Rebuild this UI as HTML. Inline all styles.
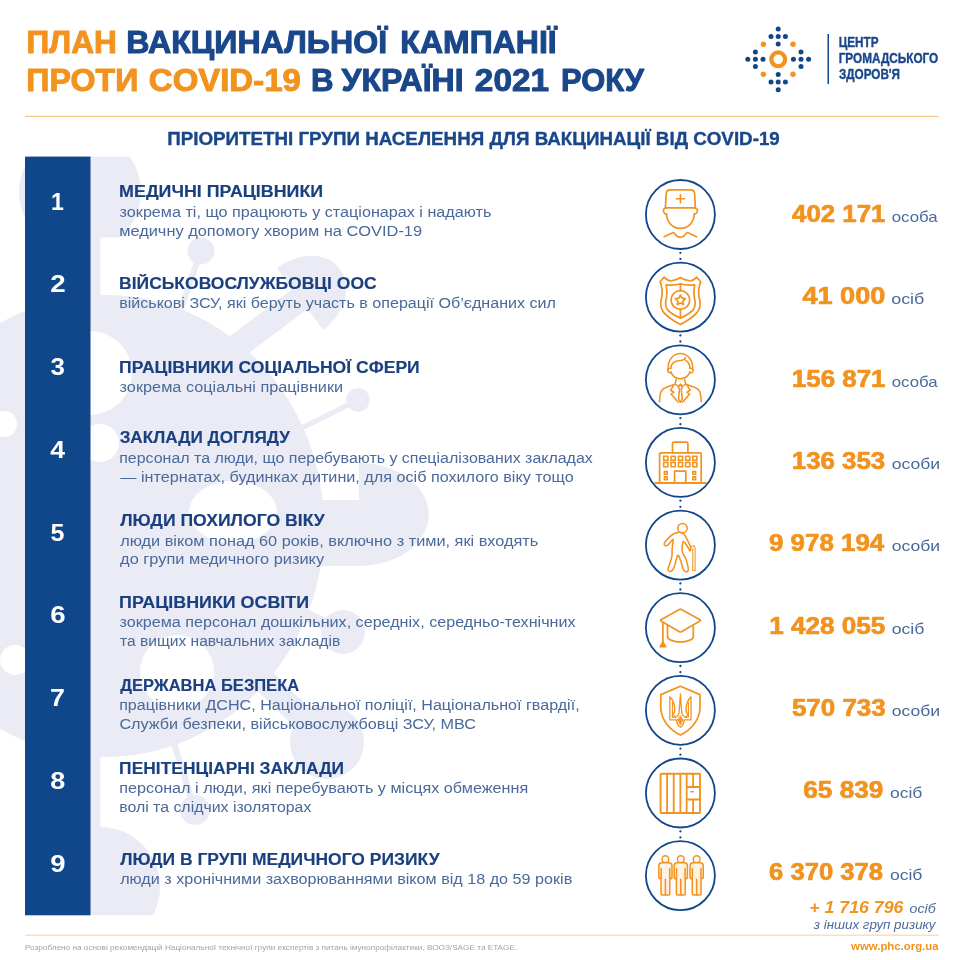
<!DOCTYPE html>
<html lang="uk"><head><meta charset="utf-8"><title>План вакцинальної кампанії проти COVID-19</title>
<style>
html,body{margin:0;padding:0;background:#fff;}
body{width:959px;height:960px;overflow:hidden;font-family:'Liberation Sans', sans-serif;}
svg{display:block;font-family:'Liberation Sans', sans-serif;}
</style></head><body>
<svg width="959" height="960" viewBox="0 0 959 960">
<defs><clipPath id="wmclip"><rect x="0" y="156.5" width="640" height="758.8"/></clipPath><clipPath id="domeA"><rect x="0" y="100" width="300" height="137.5"/></clipPath></defs>
<g clip-path="url(#wmclip)" fill="#eaebf5" stroke="#eaebf5" stroke-linecap="butt">
<ellipse cx="105" cy="526" rx="219" ry="231" stroke="none"/>
<circle cx="80" cy="192" r="61" stroke="none" clip-path="url(#domeA)"/>
<rect x="62" y="230" width="38.5" height="90" stroke="none"/>
<circle cx="100" cy="887" r="60" stroke="none"/>
<rect x="64" y="700" width="36.5" height="150" stroke="none"/>
<line x1="201" y1="251" x2="177.5" y2="318.4" stroke-width="6"/>
<circle cx="201" cy="251" r="13.5" stroke="none"/>
<line x1="358" y1="400" x2="294.8" y2="431.5" stroke-width="5"/>
<circle cx="358" cy="400" r="11.7" stroke="none"/>
<line x1="343" y1="632" x2="297.8" y2="611.9" stroke-width="12"/>
<circle cx="343" cy="632" r="22" stroke="none"/>
<line x1="327" y1="742" x2="259.3" y2="676.1" stroke-width="24"/>
<circle cx="327" cy="742" r="37" stroke="none"/>
<line x1="195" y1="810" x2="171.2" y2="734.7" stroke-width="6"/>
<circle cx="195" cy="810" r="15" stroke="none"/>
<path d="M359,463 A69,51 0 0 1 359,566 Z" stroke="none"/>
<rect x="300" y="500" width="60" height="66" stroke="none"/>
<g transform="translate(300,299) rotate(-37)"><path d="M0,-38.7 A50,38.7 0 0 1 0,38.7 Z" stroke="none"/><rect x="-110" y="-12.5" width="111" height="25" stroke="none"/></g>
<ellipse cx="233" cy="512" rx="44" ry="31" fill="#ffffff" stroke="none"/>
<circle cx="90" cy="373" r="42" fill="#ffffff" stroke="none"/>
<circle cx="100" cy="443" r="19" fill="#ffffff" stroke="none"/>
<circle cx="177" cy="672" r="37" fill="#ffffff" stroke="none"/>
<circle cx="4" cy="424" r="13" fill="#ffffff" stroke="none"/>
<circle cx="15" cy="660" r="15" fill="#ffffff" stroke="none"/>
</g>
<text x="26.40" y="52.80" font-size="30.8" font-weight="bold" font-style="normal" fill="#f2931f" textLength="90.43" lengthAdjust="spacingAndGlyphs" stroke="#f2931f" stroke-width="1.0" stroke-linejoin="round">ПЛАН</text>
<text x="126.37" y="52.80" font-size="30.8" font-weight="bold" font-style="normal" fill="#1a478a" textLength="260.70" lengthAdjust="spacingAndGlyphs" stroke="#1a478a" stroke-width="1.0" stroke-linejoin="round">ВАКЦИНАЛЬНОЇ</text>
<text x="400.38" y="52.80" font-size="30.8" font-weight="bold" font-style="normal" fill="#1a478a" textLength="156.29" lengthAdjust="spacingAndGlyphs" stroke="#1a478a" stroke-width="1.0" stroke-linejoin="round">КАМПАНІЇ</text>
<text x="26.37" y="90.70" font-size="30.8" font-weight="bold" font-style="normal" fill="#f2931f" textLength="111.91" lengthAdjust="spacingAndGlyphs" stroke="#f2931f" stroke-width="1.0" stroke-linejoin="round">ПРОТИ</text>
<text x="148.85" y="90.70" font-size="30.8" font-weight="bold" font-style="normal" fill="#f2931f" textLength="151.93" lengthAdjust="spacingAndGlyphs" stroke="#f2931f" stroke-width="1.0" stroke-linejoin="round">COVID-19</text>
<text x="310.91" y="90.70" font-size="30.8" font-weight="bold" font-style="normal" fill="#1a478a" textLength="22.57" lengthAdjust="spacingAndGlyphs" stroke="#1a478a" stroke-width="1.0" stroke-linejoin="round">В</text>
<text x="341.55" y="90.70" font-size="30.8" font-weight="bold" font-style="normal" fill="#1a478a" textLength="122.08" lengthAdjust="spacingAndGlyphs" stroke="#1a478a" stroke-width="1.0" stroke-linejoin="round">УКРАЇНІ</text>
<text x="474.89" y="90.70" font-size="30.8" font-weight="bold" font-style="normal" fill="#1a478a" textLength="74.22" lengthAdjust="spacingAndGlyphs" stroke="#1a478a" stroke-width="1.0" stroke-linejoin="round">2021</text>
<text x="561.03" y="90.70" font-size="30.8" font-weight="bold" font-style="normal" fill="#1a478a" textLength="83.02" lengthAdjust="spacingAndGlyphs" stroke="#1a478a" stroke-width="1.0" stroke-linejoin="round">РОКУ</text>
<g>
<circle cx="778.2" cy="59.3" r="6.9" fill="none" stroke="#f2931f" stroke-width="4.2"/>
<circle cx="778.2" cy="44.1" r="2.5" fill="#10478b"/>
<circle cx="778.2" cy="36.5" r="2.5" fill="#10478b"/>
<circle cx="778.2" cy="28.9" r="2.5" fill="#10478b"/>
<circle cx="771.0" cy="36.5" r="2.5" fill="#10478b"/>
<circle cx="785.4" cy="36.5" r="2.5" fill="#10478b"/>
<circle cx="778.2" cy="74.5" r="2.5" fill="#10478b"/>
<circle cx="778.2" cy="82.1" r="2.5" fill="#10478b"/>
<circle cx="778.2" cy="89.7" r="2.5" fill="#10478b"/>
<circle cx="785.4" cy="82.1" r="2.5" fill="#10478b"/>
<circle cx="771.0" cy="82.1" r="2.5" fill="#10478b"/>
<circle cx="763.0" cy="59.3" r="2.5" fill="#10478b"/>
<circle cx="755.4" cy="59.3" r="2.5" fill="#10478b"/>
<circle cx="747.8" cy="59.3" r="2.5" fill="#10478b"/>
<circle cx="755.4" cy="66.5" r="2.5" fill="#10478b"/>
<circle cx="755.4" cy="52.1" r="2.5" fill="#10478b"/>
<circle cx="793.4" cy="59.3" r="2.5" fill="#10478b"/>
<circle cx="801.0" cy="59.3" r="2.5" fill="#10478b"/>
<circle cx="808.6" cy="59.3" r="2.5" fill="#10478b"/>
<circle cx="801.0" cy="52.1" r="2.5" fill="#10478b"/>
<circle cx="801.0" cy="66.5" r="2.5" fill="#10478b"/>
<circle cx="763.4" cy="44.3" r="2.7" fill="#f2931f"/>
<circle cx="763.4" cy="74.3" r="2.7" fill="#f2931f"/>
<circle cx="793.0" cy="44.3" r="2.7" fill="#f2931f"/>
<circle cx="793.0" cy="74.3" r="2.7" fill="#f2931f"/>
</g>
<rect x="827.5" y="34" width="1.5" height="50" fill="#10478b"/>
<text x="838.68" y="47.30" font-size="14.6" font-weight="bold" font-style="normal" fill="#1a478a" textLength="39.79" lengthAdjust="spacingAndGlyphs" stroke="#1a478a" stroke-width="0.4" stroke-linejoin="round">ЦЕНТР</text>
<text x="838.68" y="63.00" font-size="14.6" font-weight="bold" font-style="normal" fill="#1a478a" textLength="99.57" lengthAdjust="spacingAndGlyphs" stroke="#1a478a" stroke-width="0.4" stroke-linejoin="round">ГРОМАДСЬКОГО</text>
<text x="838.92" y="78.90" font-size="14.6" font-weight="bold" font-style="normal" fill="#1a478a" textLength="61.11" lengthAdjust="spacingAndGlyphs" stroke="#1a478a" stroke-width="0.4" stroke-linejoin="round">ЗДОРОВ'Я</text>
<rect x="25" y="115.8" width="914" height="1.1" fill="#f3c47d"/>
<rect x="25" y="934.6" width="913.8" height="1.1" fill="#f7d5a3"/>
<text x="167.17" y="145.00" font-size="17.6" font-weight="bold" font-style="normal" fill="#1a478a" textLength="612.63" lengthAdjust="spacingAndGlyphs" stroke="#1a478a" stroke-width="0.35" stroke-linejoin="round">ПРІОРИТЕТНІ ГРУПИ НАСЕЛЕННЯ ДЛЯ ВАКЦИНАЦІЇ ВІД COVID-19</text>
<rect x="25" y="156.6" width="65.5" height="758.7" fill="#10478b"/>
<text x="51.04" y="209.50" font-size="23" font-weight="bold" font-style="normal" fill="#ffffff" textLength="12.81" lengthAdjust="spacingAndGlyphs">1</text>
<text x="119.12" y="196.75" font-size="17.2" font-weight="bold" font-style="normal" fill="#1b4080" textLength="204.04" lengthAdjust="spacingAndGlyphs" stroke="#1b4080" stroke-width="0.15" stroke-linejoin="round">МЕДИЧНІ ПРАЦІВНИКИ</text>
<text x="119.60" y="216.50" font-size="15.2" font-weight="normal" font-style="normal" fill="#4a6a9b" textLength="371.75" lengthAdjust="spacingAndGlyphs">зокрема ті, що працюють у стаціонарах і надають</text>
<text x="119.15" y="235.50" font-size="15.2" font-weight="normal" font-style="normal" fill="#4a6a9b" textLength="302.93" lengthAdjust="spacingAndGlyphs">медичну допомогу хворим на COVID-19</text>
<text x="792.10" y="222.00" font-size="23.6" font-weight="bold" font-style="normal" fill="#f2931f" textLength="93.28" lengthAdjust="spacingAndGlyphs" stroke="#f2931f" stroke-width="0.7" stroke-linejoin="round">402 171</text>
<text x="891.73" y="222.00" font-size="14.6" font-weight="normal" font-style="normal" fill="#4a6a9b" textLength="45.99" lengthAdjust="spacingAndGlyphs">особа</text>
<text x="50.30" y="292.28" font-size="23" font-weight="bold" font-style="normal" fill="#ffffff" textLength="15.41" lengthAdjust="spacingAndGlyphs">2</text>
<text x="119.13" y="289.25" font-size="17.2" font-weight="bold" font-style="normal" fill="#1b4080" textLength="257.52" lengthAdjust="spacingAndGlyphs" stroke="#1b4080" stroke-width="0.15" stroke-linejoin="round">ВІЙСЬКОВОСЛУЖБОВЦІ ООС</text>
<text x="119.17" y="308.25" font-size="15.2" font-weight="normal" font-style="normal" fill="#4a6a9b" textLength="436.75" lengthAdjust="spacingAndGlyphs">військові ЗСУ, які беруть участь в операції Об’єднаних сил</text>
<text x="802.41" y="304.30" font-size="23.6" font-weight="bold" font-style="normal" fill="#f2931f" textLength="82.93" lengthAdjust="spacingAndGlyphs" stroke="#f2931f" stroke-width="0.7" stroke-linejoin="round">41 000</text>
<text x="891.18" y="304.30" font-size="14.6" font-weight="normal" font-style="normal" fill="#4a6a9b" textLength="33.20" lengthAdjust="spacingAndGlyphs">осіб</text>
<text x="50.52" y="375.06" font-size="23" font-weight="bold" font-style="normal" fill="#ffffff" textLength="14.41" lengthAdjust="spacingAndGlyphs">3</text>
<text x="119.13" y="372.50" font-size="17.2" font-weight="bold" font-style="normal" fill="#1b4080" textLength="300.60" lengthAdjust="spacingAndGlyphs" stroke="#1b4080" stroke-width="0.15" stroke-linejoin="round">ПРАЦІВНИКИ СОЦІАЛЬНОЇ СФЕРИ</text>
<text x="119.60" y="391.75" font-size="15.2" font-weight="normal" font-style="normal" fill="#4a6a9b" textLength="223.60" lengthAdjust="spacingAndGlyphs">зокрема соціальні працівники</text>
<text x="791.84" y="386.60" font-size="23.6" font-weight="bold" font-style="normal" fill="#f2931f" textLength="93.66" lengthAdjust="spacingAndGlyphs" stroke="#f2931f" stroke-width="0.7" stroke-linejoin="round">156 871</text>
<text x="891.73" y="386.60" font-size="14.6" font-weight="normal" font-style="normal" fill="#4a6a9b" textLength="45.99" lengthAdjust="spacingAndGlyphs">особа</text>
<text x="50.39" y="457.84" font-size="23" font-weight="bold" font-style="normal" fill="#ffffff" textLength="14.76" lengthAdjust="spacingAndGlyphs">4</text>
<text x="119.64" y="443.25" font-size="17.2" font-weight="bold" font-style="normal" fill="#1b4080" textLength="170.19" lengthAdjust="spacingAndGlyphs" stroke="#1b4080" stroke-width="0.15" stroke-linejoin="round">ЗАКЛАДИ ДОГЛЯДУ</text>
<text x="119.19" y="462.50" font-size="15.2" font-weight="normal" font-style="normal" fill="#4a6a9b" textLength="473.59" lengthAdjust="spacingAndGlyphs">персонал та люди, що перебувають у спеціалізованих закладах</text>
<text x="120.30" y="481.50" font-size="15.2" font-weight="normal" font-style="normal" fill="#4a6a9b" textLength="453.36" lengthAdjust="spacingAndGlyphs">— інтернатах, будинках дитини, для осіб похилого віку тощо</text>
<text x="791.84" y="468.90" font-size="23.6" font-weight="bold" font-style="normal" fill="#f2931f" textLength="93.35" lengthAdjust="spacingAndGlyphs" stroke="#f2931f" stroke-width="0.7" stroke-linejoin="round">136 353</text>
<text x="891.70" y="468.90" font-size="14.6" font-weight="normal" font-style="normal" fill="#4a6a9b" textLength="48.47" lengthAdjust="spacingAndGlyphs">особи</text>
<text x="50.61" y="540.62" font-size="23" font-weight="bold" font-style="normal" fill="#ffffff" textLength="13.96" lengthAdjust="spacingAndGlyphs">5</text>
<text x="120.23" y="526.25" font-size="17.2" font-weight="bold" font-style="normal" fill="#1b4080" textLength="204.62" lengthAdjust="spacingAndGlyphs" stroke="#1b4080" stroke-width="0.15" stroke-linejoin="round">ЛЮДИ ПОХИЛОГО ВІКУ</text>
<text x="120.19" y="545.50" font-size="15.2" font-weight="normal" font-style="normal" fill="#4a6a9b" textLength="418.12" lengthAdjust="spacingAndGlyphs">люди віком понад 60 років, включно з тими, які входять</text>
<text x="120.13" y="564.30" font-size="15.2" font-weight="normal" font-style="normal" fill="#4a6a9b" textLength="203.99" lengthAdjust="spacingAndGlyphs">до групи медичного ризику</text>
<text x="768.99" y="551.20" font-size="23.6" font-weight="bold" font-style="normal" fill="#f2931f" textLength="115.27" lengthAdjust="spacingAndGlyphs" stroke="#f2931f" stroke-width="0.7" stroke-linejoin="round">9 978 194</text>
<text x="891.70" y="551.20" font-size="14.6" font-weight="normal" font-style="normal" fill="#4a6a9b" textLength="48.47" lengthAdjust="spacingAndGlyphs">особи</text>
<text x="50.21" y="623.40" font-size="23" font-weight="bold" font-style="normal" fill="#ffffff" textLength="15.37" lengthAdjust="spacingAndGlyphs">6</text>
<text x="119.12" y="608.00" font-size="17.2" font-weight="bold" font-style="normal" fill="#1b4080" textLength="189.97" lengthAdjust="spacingAndGlyphs" stroke="#1b4080" stroke-width="0.15" stroke-linejoin="round">ПРАЦІВНИКИ ОСВІТИ</text>
<text x="119.60" y="627.00" font-size="15.2" font-weight="normal" font-style="normal" fill="#4a6a9b" textLength="455.93" lengthAdjust="spacingAndGlyphs">зокрема персонал дошкільних, середніх, середньо-технічних</text>
<text x="120.01" y="646.25" font-size="15.2" font-weight="normal" font-style="normal" fill="#4a6a9b" textLength="220.17" lengthAdjust="spacingAndGlyphs">та вищих навчальних закладів</text>
<text x="769.33" y="633.50" font-size="23.6" font-weight="bold" font-style="normal" fill="#f2931f" textLength="116.02" lengthAdjust="spacingAndGlyphs" stroke="#f2931f" stroke-width="0.7" stroke-linejoin="round">1 428 055</text>
<text x="891.70" y="633.50" font-size="14.6" font-weight="normal" font-style="normal" fill="#4a6a9b" textLength="32.71" lengthAdjust="spacingAndGlyphs">осіб</text>
<text x="50.14" y="706.18" font-size="23" font-weight="bold" font-style="normal" fill="#ffffff" textLength="14.86" lengthAdjust="spacingAndGlyphs">7</text>
<text x="120.16" y="691.25" font-size="17.2" font-weight="bold" font-style="normal" fill="#1b4080" textLength="179.01" lengthAdjust="spacingAndGlyphs" stroke="#1b4080" stroke-width="0.15" stroke-linejoin="round">ДЕРЖАВНА БЕЗПЕКА</text>
<text x="119.17" y="710.00" font-size="15.2" font-weight="normal" font-style="normal" fill="#4a6a9b" textLength="460.49" lengthAdjust="spacingAndGlyphs">працівники ДСНС, Національної поліції, Національної гвардії,</text>
<text x="119.43" y="729.25" font-size="15.2" font-weight="normal" font-style="normal" fill="#4a6a9b" textLength="356.48" lengthAdjust="spacingAndGlyphs">Служби безпеки, військовослужбовці ЗСУ, МВС</text>
<text x="791.90" y="715.80" font-size="23.6" font-weight="bold" font-style="normal" fill="#f2931f" textLength="93.88" lengthAdjust="spacingAndGlyphs" stroke="#f2931f" stroke-width="0.7" stroke-linejoin="round">570 733</text>
<text x="891.70" y="715.80" font-size="14.6" font-weight="normal" font-style="normal" fill="#4a6a9b" textLength="48.47" lengthAdjust="spacingAndGlyphs">особи</text>
<text x="50.36" y="788.96" font-size="23" font-weight="bold" font-style="normal" fill="#ffffff" textLength="15.05" lengthAdjust="spacingAndGlyphs">8</text>
<text x="119.14" y="773.75" font-size="17.2" font-weight="bold" font-style="normal" fill="#1b4080" textLength="225.01" lengthAdjust="spacingAndGlyphs" stroke="#1b4080" stroke-width="0.15" stroke-linejoin="round">ПЕНІТЕНЦІАРНІ ЗАКЛАДИ</text>
<text x="119.17" y="793.00" font-size="15.2" font-weight="normal" font-style="normal" fill="#4a6a9b" textLength="409.01" lengthAdjust="spacingAndGlyphs">персонал і люди, які перебувають у місцях обмеження</text>
<text x="119.19" y="812.00" font-size="15.2" font-weight="normal" font-style="normal" fill="#4a6a9b" textLength="192.15" lengthAdjust="spacingAndGlyphs">волі та слідчих ізоляторах</text>
<text x="803.30" y="798.10" font-size="23.6" font-weight="bold" font-style="normal" fill="#f2931f" textLength="79.97" lengthAdjust="spacingAndGlyphs" stroke="#f2931f" stroke-width="0.7" stroke-linejoin="round">65 839</text>
<text x="889.90" y="798.10" font-size="14.6" font-weight="normal" font-style="normal" fill="#4a6a9b" textLength="32.50" lengthAdjust="spacingAndGlyphs">осіб</text>
<text x="50.30" y="871.74" font-size="23" font-weight="bold" font-style="normal" fill="#ffffff" textLength="15.27" lengthAdjust="spacingAndGlyphs">9</text>
<text x="120.23" y="864.50" font-size="17.2" font-weight="bold" font-style="normal" fill="#1b4080" textLength="319.35" lengthAdjust="spacingAndGlyphs" stroke="#1b4080" stroke-width="0.15" stroke-linejoin="round">ЛЮДИ В ГРУПІ МЕДИЧНОГО РИЗИКУ</text>
<text x="120.19" y="883.75" font-size="15.2" font-weight="normal" font-style="normal" fill="#4a6a9b" textLength="452.02" lengthAdjust="spacingAndGlyphs">люди з хронічними захворюваннями віком від 18 до 59 років</text>
<text x="769.11" y="880.40" font-size="23.6" font-weight="bold" font-style="normal" fill="#f2931f" textLength="113.97" lengthAdjust="spacingAndGlyphs" stroke="#f2931f" stroke-width="0.7" stroke-linejoin="round">6 370 378</text>
<text x="889.90" y="880.40" font-size="14.6" font-weight="normal" font-style="normal" fill="#4a6a9b" textLength="32.50" lengthAdjust="spacingAndGlyphs">осіб</text>
<text x="809.21" y="912.50" font-size="16.5" font-weight="bold" font-style="italic" fill="#f2931f" textLength="94.18" lengthAdjust="spacingAndGlyphs">+ 1 716 796</text>
<text x="909.58" y="912.50" font-size="13.5" font-weight="normal" font-style="italic" fill="#4a6a9b" textLength="26.10" lengthAdjust="spacingAndGlyphs">осіб</text>
<text x="813.81" y="929.00" font-size="13.5" font-weight="normal" font-style="italic" fill="#4a6a9b" textLength="121.72" lengthAdjust="spacingAndGlyphs">з інших груп ризику</text>
<text x="24.93" y="950.00" font-size="7.6" font-weight="normal" font-style="normal" fill="#a3a3a3" textLength="492.29" lengthAdjust="spacingAndGlyphs">Розроблено на основі рекомендацій Національної технічної групи експертів з питань імунопрофілактики, ВООЗ/SAGE та ETAGE.</text>
<text x="851.09" y="950.00" font-size="11.3" font-weight="bold" font-style="normal" fill="#f2931f" textLength="87.49" lengthAdjust="spacingAndGlyphs">www.phc.org.ua</text>
<circle cx="680.4" cy="214.5" r="34.5" fill="#ffffff" stroke="#10478b" stroke-width="1.8"/>
<circle cx="680.4" cy="252.8" r="1.15" fill="#10478b"/>
<circle cx="680.4" cy="258.9" r="1.15" fill="#10478b"/>
<circle cx="680.4" cy="297.1" r="34.5" fill="#ffffff" stroke="#10478b" stroke-width="1.8"/>
<circle cx="680.4" cy="335.4" r="1.15" fill="#10478b"/>
<circle cx="680.4" cy="341.5" r="1.15" fill="#10478b"/>
<circle cx="680.4" cy="379.8" r="34.5" fill="#ffffff" stroke="#10478b" stroke-width="1.8"/>
<circle cx="680.4" cy="418.1" r="1.15" fill="#10478b"/>
<circle cx="680.4" cy="424.2" r="1.15" fill="#10478b"/>
<circle cx="680.4" cy="462.4" r="34.5" fill="#ffffff" stroke="#10478b" stroke-width="1.8"/>
<circle cx="680.4" cy="500.7" r="1.15" fill="#10478b"/>
<circle cx="680.4" cy="506.8" r="1.15" fill="#10478b"/>
<circle cx="680.4" cy="545.1" r="34.5" fill="#ffffff" stroke="#10478b" stroke-width="1.8"/>
<circle cx="680.4" cy="583.4" r="1.15" fill="#10478b"/>
<circle cx="680.4" cy="589.5" r="1.15" fill="#10478b"/>
<circle cx="680.4" cy="627.7" r="34.5" fill="#ffffff" stroke="#10478b" stroke-width="1.8"/>
<circle cx="680.4" cy="666.0" r="1.15" fill="#10478b"/>
<circle cx="680.4" cy="672.1" r="1.15" fill="#10478b"/>
<circle cx="680.4" cy="710.3" r="34.5" fill="#ffffff" stroke="#10478b" stroke-width="1.8"/>
<circle cx="680.4" cy="748.6" r="1.15" fill="#10478b"/>
<circle cx="680.4" cy="754.7" r="1.15" fill="#10478b"/>
<circle cx="680.4" cy="793.0" r="34.5" fill="#ffffff" stroke="#10478b" stroke-width="1.8"/>
<circle cx="680.4" cy="831.3" r="1.15" fill="#10478b"/>
<circle cx="680.4" cy="837.4" r="1.15" fill="#10478b"/>
<circle cx="680.4" cy="875.6" r="34.5" fill="#ffffff" stroke="#10478b" stroke-width="1.8"/>
<g transform="translate(680.4,214.5)" fill="none" stroke="#f2931f" stroke-width="1.7" stroke-linecap="round" stroke-linejoin="round">
<path d="M-15,-6.6 L-14.2,-21 Q-13.9,-24.7 -10,-24.7 L10,-24.7 Q13.9,-24.7 14.2,-21 L15,-6.6 Z"/>
<path d="M-4,-15.75 h8 M0,-19.75 v8"/>
<path d="M-14.6,-6.4 Q-17.6,-6 -16.9,-3 Q-16.2,-0.6 -13.9,-0.2 M14.6,-6.4 Q17.6,-6 16.9,-3 Q16.2,-0.6 13.9,-0.2"/>
<path d="M-13.9,-0.5 C-13.3,8 -8,13.9 0,13.9 C8,13.9 13.3,8 13.9,-0.5"/>
<path d="M-16.25,22.2 L-7.1,18 Q-6,18.2 -5,20 Q-3,22.8 0,22.8 Q3,22.8 5,20 Q6,18.2 7.1,18 L16.25,22.2"/>
</g>
<g transform="translate(680.4,297.1)" fill="none" stroke="#f2931f" stroke-width="1.7" stroke-linecap="round" stroke-linejoin="round">
<path d="M-16.25,-20 Q-12,-15.3 -8,-16.6 Q-3,-17.5 0,-19.6 Q3,-17.5 8,-16.6 Q12,-15.3 16.25,-20 L20.4,-15.4 Q17.3,-8 18.6,0 Q21.6,9 17,15 Q12,21 0,27.5 Q-12,21 -17,15 Q-21.6,9 -18.6,0 Q-17.3,-8 -20.4,-15.4 Z"/>
<path d="M-14.3,-12.3 Q-6,-11.3 0,-13.3 Q6,-11.3 14.3,-12.3 Q12.8,-5 14,1 Q16,8 13,12.5 Q9,17 0,21 Q-9,17 -13,12.5 Q-16,8 -14,1 Q-12.8,-5 -14.3,-12.3 Z"/>
<circle cx="0" cy="2.9" r="9.3"/>
<path d="M0.00,-2.00 L1.53,1.10 L4.95,1.59 L2.47,4.00 L3.06,7.41 L0.00,5.80 L-3.06,7.41 L-2.47,4.00 L-4.95,1.59 L-1.53,1.10Z"/>
<path d="M0,-13.3 V-6.4 M0,12.2 V21"/>
</g>
<g transform="translate(680.4,379.8)" fill="none" stroke="#f2931f" stroke-width="1.55" stroke-linecap="round" stroke-linejoin="round">
<path d="M-12.3,-10 C-13,-20 -7,-26.3 0,-26.3 C7,-26.3 13,-20 12.3,-10"/>
<path d="M-9.5,-11.5 C-9.5,-16 -6,-19 0,-19.3 C3,-19.5 4.5,-20.5 5,-22.3 M5.2,-19.5 C8.5,-17.5 9.5,-15 9.5,-11.5"/>
<path d="M-9.5,-11.5 Q-12.8,-12 -12.6,-9 Q-12.3,-6.6 -9.3,-7.2 M9.5,-11.5 Q12.8,-12 12.6,-9 Q12.3,-6.6 9.3,-7.2"/>
<path d="M-9.4,-8 C-8.5,-3.5 -4,-1 0,-1 C4,-1 8.5,-3.5 9.4,-8"/>
<path d="M-4.2,0 L-5.4,4.3 L-2,6.3 L0,4.6 L2,6.3 L5.4,4.3 L4.2,0"/>
<path d="M0,4.6 L-2,7.3 L-0.9,9.5 L-1.9,19 L0,22.5 L1.9,19 L0.9,9.5 L2,7.3 Z"/>
<path d="M-20.8,22 C-20.6,12 -19,9 -14,7.4 L-6.2,4.6 L-9.8,10.5 L-6.6,12.3 L-9.3,14.3 L-2.4,22.3"/>
<path d="M20.8,22 C20.6,12 19,9 14,7.4 L6.2,4.6 L9.8,10.5 L6.6,12.3 L9.3,14.3 L2.4,22.3"/>
</g>
<g transform="translate(680.4,462.4)" fill="none" stroke="#f2931f" stroke-width="1.7" stroke-linecap="round" stroke-linejoin="round">
<path d="M-25,20.5 H25.4" stroke-width="2"/>
<path d="M-20.8,20.5 V-8.3 Q-20.8,-9.5 -19.6,-9.5 H19.6 Q20.8,-9.5 20.8,-8.3 V20.5"/>
<path d="M-7.9,-9.5 V-19.1 Q-7.9,-20.3 -6.7,-20.3 H6.3 Q7.5,-20.3 7.5,-19.1 V-9.5"/>
<path d="M-5.8,20.5 V8.8 H5.4 V20.5"/>
<rect x="-16.70" y="-6.20" width="4.2" height="4.2" stroke-width="1.6"/><rect x="-16.70" y="0.10" width="4.2" height="4.2" stroke-width="1.6"/><rect x="-9.40" y="-6.20" width="4.2" height="4.2" stroke-width="1.6"/><rect x="-9.40" y="0.10" width="4.2" height="4.2" stroke-width="1.6"/><rect x="-2.00" y="-6.20" width="4.2" height="4.2" stroke-width="1.6"/><rect x="-2.00" y="0.10" width="4.2" height="4.2" stroke-width="1.6"/><rect x="5.20" y="-6.20" width="4.2" height="4.2" stroke-width="1.6"/><rect x="5.20" y="0.10" width="4.2" height="4.2" stroke-width="1.6"/><rect x="12.30" y="-6.20" width="4.2" height="4.2" stroke-width="1.6"/><rect x="12.30" y="0.10" width="4.2" height="4.2" stroke-width="1.6"/><rect x="-16.00" y="9.10" width="2.8" height="2.8" stroke-width="1.6"/><rect x="-16.00" y="14.50" width="2.8" height="2.8" stroke-width="1.6"/><rect x="12.40" y="9.10" width="2.8" height="2.8" stroke-width="1.6"/><rect x="12.40" y="14.50" width="2.8" height="2.8" stroke-width="1.6"/>
</g>
<g transform="translate(680.4,545.1)" fill="none" stroke="#f2931f" stroke-width="1.55" stroke-linecap="round" stroke-linejoin="round">
<circle cx="2.1" cy="-16.9" r="4.7"/>
<path d="M-1.67,-12.75 C-3.12,-12.54 -5.28,-12.12 -7.08,-11.08 C-8.89,-10.04 -11.00,-8.03 -12.50,-6.50 C-14.00,-4.97 -15.60,-3.06 -16.08,-1.92 C-16.57,-0.78 -15.92,-0.04 -15.42,0.33 C-14.92,0.71 -13.99,0.85 -13.08,0.33 C-12.18,-0.18 -10.97,-1.72 -10.00,-2.75 C-9.03,-3.78 -7.62,-6.18 -7.25,-5.83 C-6.88,-5.49 -7.57,-2.50 -7.75,-0.67 C-7.93,1.17 -8.21,3.22 -8.33,5.17 C-8.46,7.11 -8.18,8.92 -8.50,11.00 C-8.82,13.08 -9.62,15.65 -10.25,17.67 C-10.88,19.68 -12.01,21.69 -12.25,23.08 C-12.49,24.47 -12.32,25.58 -11.67,26.00 C-11.01,26.42 -9.35,26.56 -8.33,25.58 C-7.32,24.61 -6.51,22.74 -5.58,20.17 C-4.65,17.60 -3.75,10.86 -2.75,10.17 C-1.75,9.47 -0.46,13.78 0.42,16.00 C1.29,18.22 1.74,21.72 2.50,23.50 C3.26,25.28 4.12,26.32 5.00,26.67 C5.88,27.01 7.33,26.53 7.75,25.58 C8.17,24.64 7.92,23.01 7.50,21.00 C7.08,18.99 6.22,16.07 5.25,13.50 C4.28,10.93 2.08,8.36 1.67,5.58 C1.25,2.81 2.15,-2.01 2.75,-3.17 C3.35,-4.32 4.32,-2.44 5.25,-1.33 C6.18,-0.22 7.61,2.31 8.33,3.50 C9.06,4.69 9.26,6.04 9.58,5.83 C9.90,5.62 10.60,3.89 10.25,2.25 C9.90,0.61 8.51,-1.92 7.50,-4.00 C6.49,-6.08 5.14,-8.86 4.17,-10.25 C3.19,-11.64 2.64,-11.92 1.67,-12.33 C0.69,-12.75 -0.21,-12.96 -1.67,-12.75Z"/>
<path d="M12.4,25.3 V3.8 M14.7,25.3 V2.6 Q14.5,0.6 12.3,0.8 L10.2,1.6 M12.4,25.5 H14.7" stroke-width="1.05"/>
</g>
<g transform="translate(680.4,627.7)" fill="none" stroke="#f2931f" stroke-width="1.7" stroke-linecap="round" stroke-linejoin="round">
<path d="M-1,-18.3 Q0,-18.9 1,-18.3 L19.6,-8 Q20.6,-7.3 19.6,-6.6 L1,4 Q0,4.6 -1,4 L-19.4,-6.6 Q-20.4,-7.3 -19.4,-8 Z"/>
<path d="M-12.9,-2.3 V9 Q-12.9,11.2 -9,12.7 Q0,16 9,12.7 Q12.9,11.2 12.9,9 V-2.3"/>
<path d="M-17.5,-5.3 V15"/>
<path d="M-17.5,14.6 L-20.3,19 H-14.7 Z" fill="#f2931f"/>
</g>
<g transform="translate(680.4,710.3)" fill="none" stroke="#f2931f" stroke-width="1.7" stroke-linecap="round" stroke-linejoin="round">
<path d="M0,-24 L19.6,-15.7 V-3 C19.6,10 10,20 0,24.75 C-10,20 -19.6,10 -19.6,-3 V-15.7 Z"/>
<path d="M-10.6,-13.6 V9.6 H-4 Q-3.2,14.8 0,17 Q3.2,14.8 4,9.6 H10.6 V-13.6 Q6.2,-9.5 5.6,-1.5 Q5.4,2.5 7.8,4.2 L5,7.2 Q2.2,6 1.4,2.5 Q0.6,-6 0,-16.5 Q-0.6,-6 -1.4,2.5 Q-2.2,6 -5,7.2 L-7.8,4.2 Q-5.4,2.5 -5.6,-1.5 Q-6.2,-9.5 -10.6,-13.6 Z" stroke-width="1.3"/>
<path d="M-8,-8 V7 H-5 M8,-8 V7 H5 M0,7.5 V14 M-2.6,9.6 H2.6" stroke-width="1.1"/>
<path d="M0,5.6 L2.7,9.8 L0,14.6 L-2.7,9.8Z" fill="#f2931f" fill-opacity="0.75" stroke-width="0.8"/>
</g>
<g transform="translate(680.4,793.0)" fill="none" stroke="#f2931f" stroke-width="1.7" stroke-linecap="round" stroke-linejoin="round">
<rect x="-19.8" y="-19.2" width="39.4" height="39.2" rx="0.8" stroke-width="1.9"/>
<path d="M-13.3,-19 V19.8 M-6.7,-19 V19.8 M0,-19 V19.8 M6.25,-19 V19.8 M12.7,-19 V-6 M12.7,6.5 V19.8 M6.25,-6 H19.6 M6.25,6.5 H19.6" stroke-width="1.8"/>
<path d="M10.5,-1.2 H13" stroke="#6b6f86" stroke-width="1"/>
</g>
<g transform="translate(680.4,875.6)" fill="none" stroke="#f2931f" stroke-width="1.5" stroke-linecap="round" stroke-linejoin="round"><g transform="translate(-15,0)"><circle cx="0" cy="-16.4" r="3.4"/>
<path d="M-6.6,-9.8 Q-6.6,-12.8 -3.6,-12.8 H3.6 Q6.6,-12.8 6.6,-9.8 V2 Q6.6,3.2 5.5,3.2 Q4.4,3.2 4.4,2 V18.4 Q4.4,19.4 3.4,19.4 H-3.4 Q-4.4,19.4 -4.4,18.4 V2 Q-4.4,3.2 -5.5,3.2 Q-6.6,3.2 -6.6,2 Z" fill="#fef3e2"/>
<path d="M-4.3,-7 V2 M4.3,-7 V2 M0,3.6 V19.2"/></g><g transform="translate(0.4,0)"><circle cx="0" cy="-16.4" r="3.4"/>
<path d="M-6.6,-9.8 Q-6.6,-12.8 -3.6,-12.8 H3.6 Q6.6,-12.8 6.6,-9.8 V2 Q6.6,3.2 5.5,3.2 Q4.4,3.2 4.4,2 V18.4 Q4.4,19.4 3.4,19.4 H-3.4 Q-4.4,19.4 -4.4,18.4 V2 Q-4.4,3.2 -5.5,3.2 Q-6.6,3.2 -6.6,2 Z" fill="#fef3e2"/>
<path d="M-4.3,-7 V2 M4.3,-7 V2 M0,3.6 V19.2"/></g><g transform="translate(16.25,0)"><circle cx="0" cy="-16.4" r="3.4"/>
<path d="M-6.6,-9.8 Q-6.6,-12.8 -3.6,-12.8 H3.6 Q6.6,-12.8 6.6,-9.8 V2 Q6.6,3.2 5.5,3.2 Q4.4,3.2 4.4,2 V18.4 Q4.4,19.4 3.4,19.4 H-3.4 Q-4.4,19.4 -4.4,18.4 V2 Q-4.4,3.2 -5.5,3.2 Q-6.6,3.2 -6.6,2 Z" fill="#fef3e2"/>
<path d="M-4.3,-7 V2 M4.3,-7 V2 M0,3.6 V19.2"/></g></g>
</svg>
</body></html>
